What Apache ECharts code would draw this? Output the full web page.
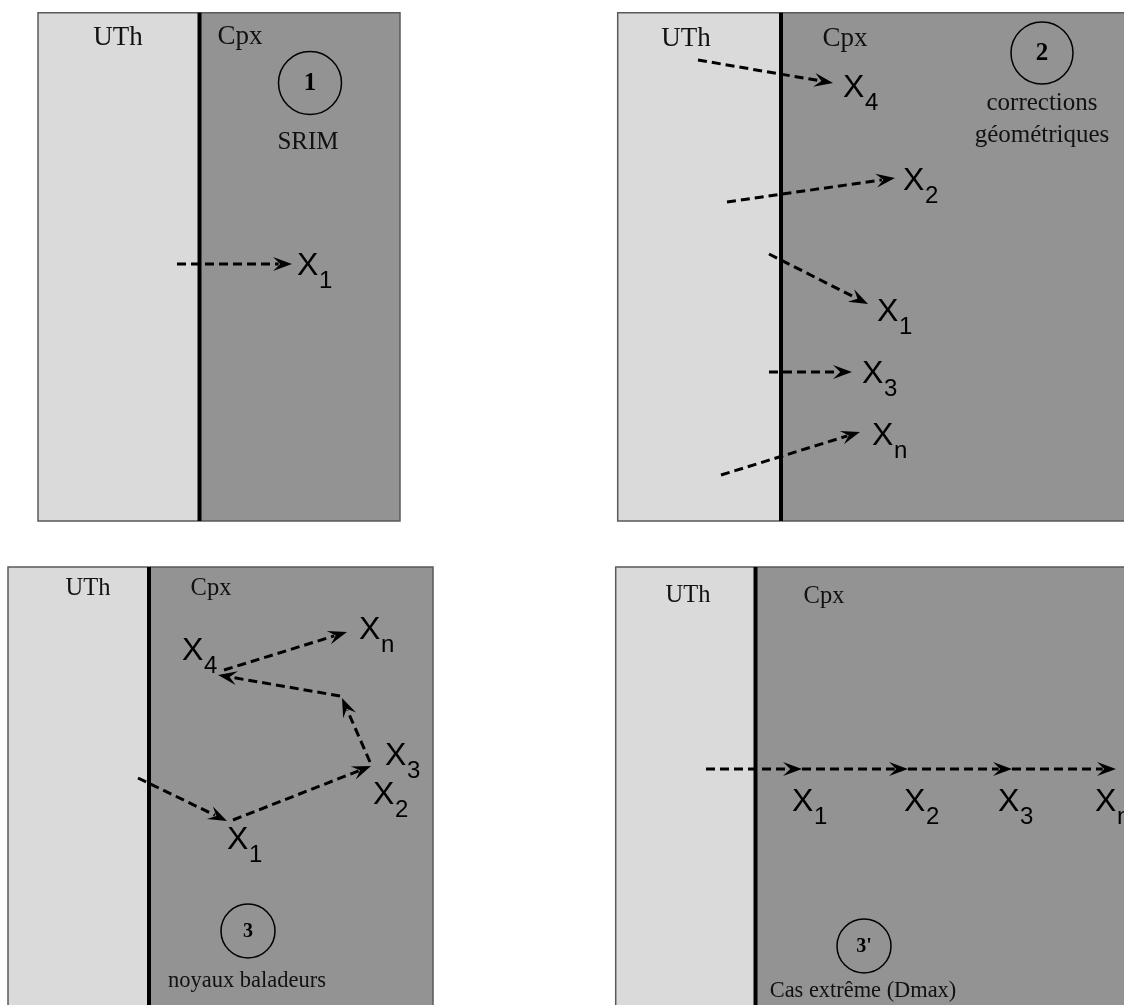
<!DOCTYPE html>
<html>
<head>
<meta charset="utf-8">
<script src="https://cdn.jsdelivr.net/npm/echarts@6/dist/echarts.min.js"></script>
<style>
html,body{margin:0;padding:0;background:#ffffff;}
#chart{width:1124px;height:1005px;}
</style>
</head>
<body>
<div id="chart"></div>
<script>
// Panel boxes: [left, top, right, bottom, divider (UTh | Cpx boundary)]
const panelBoxes = [
  [38, 12.7, 400, 521, 199.5],
  [617.7, 12.7, 1130, 521, 781],
  [8, 567, 433, 1012, 149],
  [615.7, 567, 1130, 1012, 755.5]
];

// Dashed trajectories: [xStart, yStart, xTip, yTip]
const trajectories = [
  [177, 264, 292, 264],
  [698, 60, 833, 83],
  [727, 202, 895, 178],
  [769, 254, 868, 304],
  [769, 372, 852, 372],
  [721, 475, 860, 432],
  [138, 778, 227, 821],
  [233, 820, 371, 766],
  [370, 762, 342, 698],
  [340, 696, 218, 675],
  [224, 670, 347, 632],
  [706, 769, 802, 769],
  [802, 769, 908, 769],
  [908, 769, 1012, 769],
  [1012, 769, 1116, 769]
];

// Position labels X_i: [left x, cap top y, subscript]
const pointLabels = [
  [297, 253, '1'],
  [843, 75, '4'], [903, 168, '2'], [877, 299, '1'], [862, 361, '3'], [872, 423, 'n'],
  [182, 638, '4'], [359, 617, 'n'], [385, 743, '3'], [373, 782, '2'], [227, 827, '1'],
  [792, 789, '1'], [904, 789, '2'], [998, 789, '3'], [1095, 789, 'n']
];

// Numbered circles: [panel, cx, cy, r, label]
const stepCircles = [
  [0, 310, 83, 31.5, '1'],
  [1, 1042, 53, 31, '2'],
  [2, 248, 931, 27, '3'],
  [3, 864, 946, 27, "3'"]
];

// Serif texts: [panel, center x, middle y, text, kind]
const serifTexts = [
  [0, 118, 37.5, 'UTh', 'layer'], [0, 240, 37, 'Cpx', 'layer'], [0, 308, 142.4, 'SRIM', 'caption'],
  [1, 686, 38.5, 'UTh', 'layer'], [1, 845, 38.5, 'Cpx', 'layer'],
  [1, 1042, 103.4, 'corrections', 'caption'], [1, 1042, 135.7, 'géométriques', 'caption'],
  [2, 88, 588.2, 'UTh', 'layer'], [2, 211, 588.2, 'Cpx', 'layer'], [2, 247, 981.4, 'noyaux baladeurs', 'caption'],
  [3, 688, 595.8, 'UTh', 'layer'], [3, 824, 596.5, 'Cpx', 'layer'], [3, 863, 991, 'Cas extrême (Dmax)', 'caption']
];

const layerSize = [27, 27, 24.5, 24.5];
const captionSize = [25, 25, 22.5, 22.4];
const numberSize = [25, 25, 20, 20];
const SERIF = '"Liberation Serif", "Times New Roman", serif';
const SANS = '"Liberation Sans", Arial, sans-serif';

function renderPanel(params, api) {
  const b = panelBoxes[params.dataIndex];
  const p0 = api.coord([b[0], b[1]]);
  const p1 = api.coord([b[2], b[3]]);
  const d = api.coord([b[4], b[1]])[0];
  const h = p1[1] - p0[1];
  return {
    type: 'group',
    children: [
      { type: 'rect', shape: { x: p0[0], y: p0[1], width: d - p0[0], height: h }, style: { fill: '#dadada' } },
      { type: 'rect', shape: { x: d, y: p0[1], width: p1[0] - d, height: h }, style: { fill: '#939393' } },
      { type: 'rect', shape: { x: p0[0], y: p0[1], width: p1[0] - p0[0], height: h }, style: { fill: 'none', stroke: '#5a5a5a', lineWidth: 1.5 } },
      { type: 'line', shape: { x1: d, y1: p0[1], x2: d, y2: p1[1] }, style: { stroke: '#000', lineWidth: 4 } }
    ]
  };
}

function renderArrow(params, api) {
  const t = trajectories[params.dataIndex];
  const a = api.coord([t[0], t[1]]);
  const b = api.coord([t[2], t[3]]);
  const dx = b[0] - a[0], dy = b[1] - a[1];
  const len = Math.sqrt(dx * dx + dy * dy);
  const ux = dx / len, uy = dy / len;
  const nx = -uy, ny = ux;
  const L = 19, W = 7;
  const back = [b[0] - ux * L, b[1] - uy * L];
  const notch = [b[0] - ux * L * 0.62, b[1] - uy * L * 0.62];
  const lineEnd = [b[0] - ux * L * 0.7, b[1] - uy * L * 0.7];
  return {
    type: 'group',
    children: [
      { type: 'line', shape: { x1: a[0], y1: a[1], x2: lineEnd[0], y2: lineEnd[1] },
        style: { stroke: '#000', lineWidth: 3, lineDash: [9, 5] } },
      { type: 'polygon', shape: { points: [b, [back[0] + nx * W, back[1] + ny * W], notch, [back[0] - nx * W, back[1] - ny * W]] },
        style: { fill: '#000' } }
    ]
  };
}

function renderPointLabel(params, api) {
  const p = pointLabels[params.dataIndex];
  const c = api.coord([p[0], p[1]]);
  return {
    type: 'group',
    children: [
      { type: 'text', x: c[0], y: c[1] + 13,
        style: { text: 'X', fontSize: 32, fontFamily: SANS, fill: '#000', align: 'left', verticalAlign: 'middle' } },
      { type: 'text', x: c[0] + 22, y: c[1] + 28.5,
        style: { text: p[2], fontSize: 24, fontFamily: SANS, fill: '#000', align: 'left', verticalAlign: 'middle' } }
    ]
  };
}

function renderCircle(params, api) {
  const s = stepCircles[params.dataIndex];
  const c = api.coord([s[1], s[2]]);
  const r = api.size([s[3], 0])[0];
  return {
    type: 'group',
    children: [
      { type: 'circle', shape: { cx: c[0], cy: c[1], r: r }, style: { fill: 'none', stroke: '#000', lineWidth: 1.5 } },
      { type: 'text', x: c[0], y: c[1] + 1,
        style: { text: s[4], fontSize: numberSize[s[0]], fontWeight: 'bold', fontFamily: SERIF, fill: '#000', align: 'center', verticalAlign: 'middle' } }
    ]
  };
}

function renderSerif(params, api) {
  const s = serifTexts[params.dataIndex];
  const c = api.coord([s[1], s[2]]);
  const size = s[4] === 'layer' ? layerSize[s[0]] : captionSize[s[0]];
  return {
    type: 'text', x: c[0], y: c[1],
    style: { text: s[3], fontSize: size, fontFamily: SERIF, fill: '#111', align: 'center', verticalAlign: 'middle' }
  };
}

const chart = echarts.init(document.getElementById('chart'), null, { renderer: 'canvas' });
chart.setOption({
  animation: false,
  backgroundColor: '#ffffff',
  grid: { left: 0, right: 0, top: 0, bottom: 0 },
  xAxis: { type: 'value', min: 0, max: 1124, show: false },
  yAxis: { type: 'value', min: 0, max: 1005, inverse: true, show: false },
  series: [
    { type: 'custom', renderItem: renderPanel, data: panelBoxes.map(b => [b[0], b[1]]), silent: true },
    { type: 'custom', renderItem: renderArrow, data: trajectories.map(t => [t[0], t[1]]), silent: true },
    { type: 'custom', renderItem: renderCircle, data: stepCircles.map(s => [s[1], s[2]]), silent: true },
    { type: 'custom', renderItem: renderPointLabel, data: pointLabels.map(p => [p[0], p[1]]), silent: true },
    { type: 'custom', renderItem: renderSerif, data: serifTexts.map(s => [s[1], s[2]]), silent: true }
  ]
});
</script>
</body>
</html>
